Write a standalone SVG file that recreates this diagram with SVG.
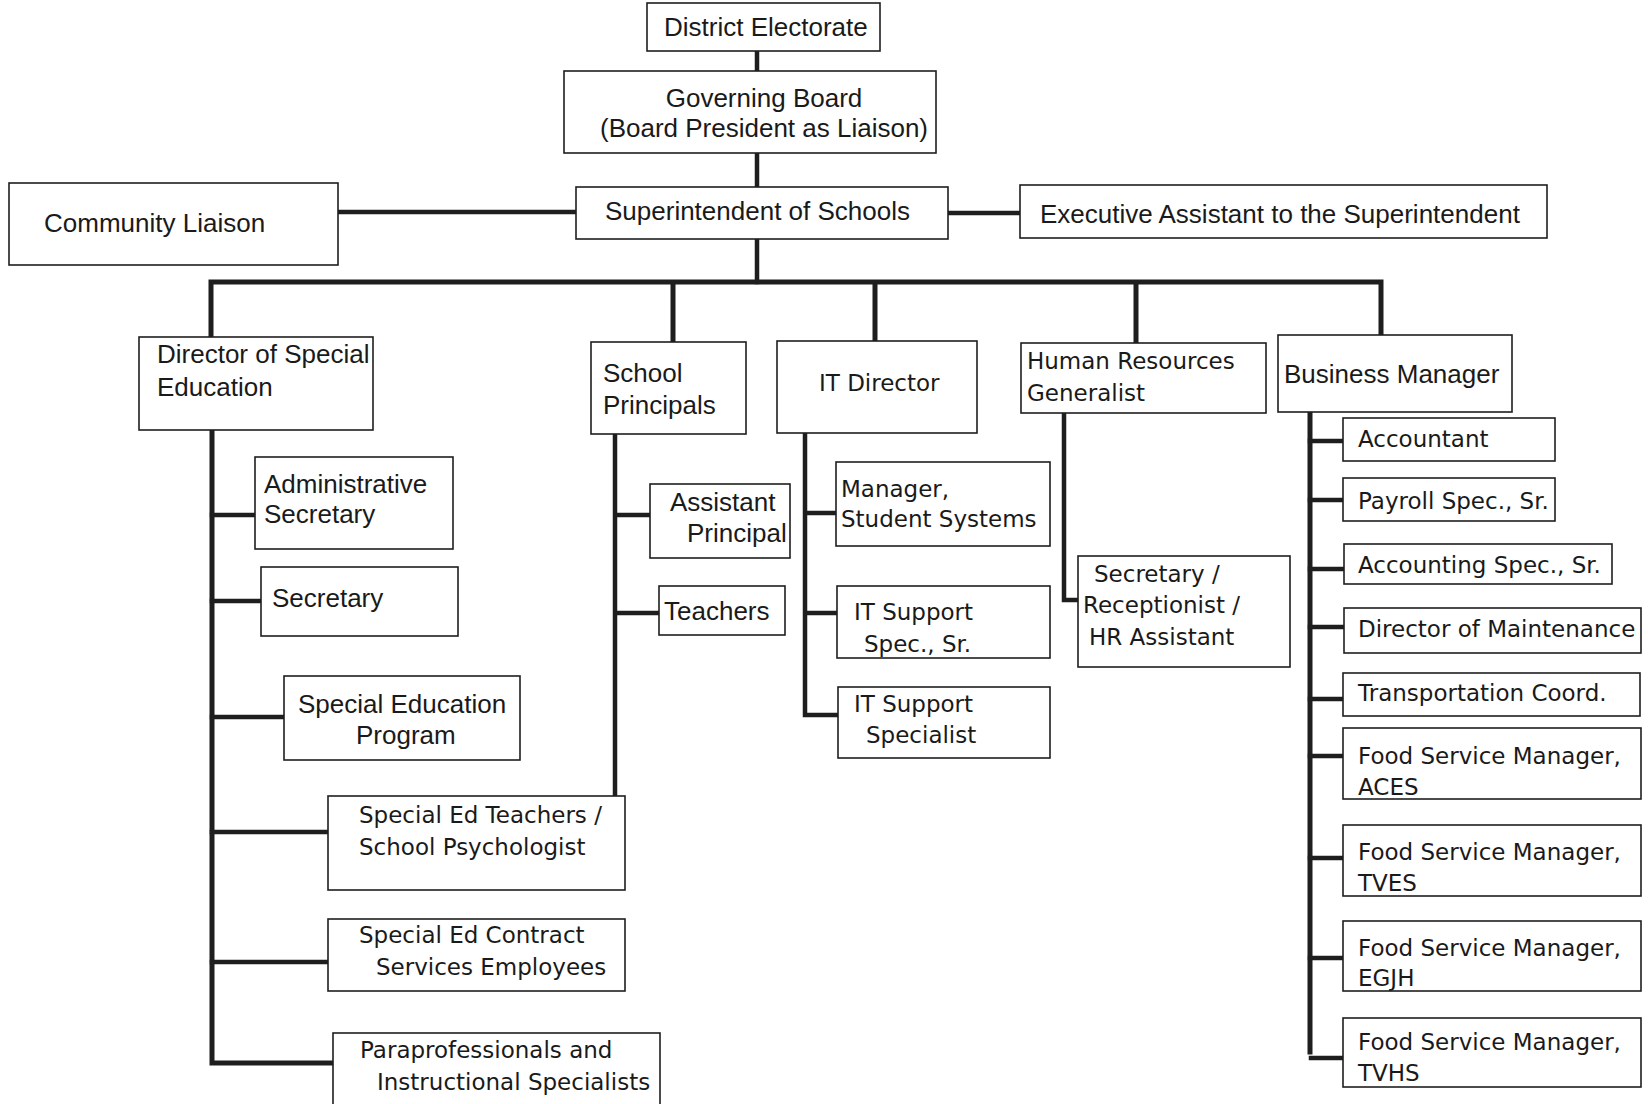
<svg xmlns="http://www.w3.org/2000/svg" width="1648" height="1104" viewBox="0 0 1648 1104">
<style>
.box{fill:#fff;stroke:#1e1e1e;stroke-width:1.6}
.t{font-family:"Liberation Sans",Arial,sans-serif;font-size:26px;fill:#1a1a1a}
.v{font-family:"DejaVu Sans",Verdana,sans-serif;font-size:23px;fill:#1a1a1a}
.c{stroke:#1e1e1e;stroke-width:4.5;fill:none;stroke-linecap:square}
.m{stroke-width:5}
</style>
<rect width="1648" height="1104" fill="#fff"/>
<g id="connectors">
<path class="c" d="M757 51V71M757 153V187M757 239V282M338 212H576M948 213H1020"/>
<path class="c m" d="M211 282H1381M211 282V337M673 282V342M875 282V341M1136 282V342M1381 282V335"/>
<path class="c m" d="M212 430V1063H333"/>
<path class="c" d="M212 515H255M212 601H261M212 717H284M212 832H328M212 962H328"/>
<path class="c" d="M615 434V795M615 515H650M615 613H659"/>
<path class="c" d="M805 433V715H838M805 513H836M805 613H837"/>
<path class="c" d="M1064 413V600H1078"/>
<path class="c m" d="M1310 412V1052"/>
<path class="c" d="M1310 441H1343M1310 500H1343M1310 569H1344M1310 627H1344M1310 699H1343M1310 756H1343M1310 858H1343M1310 958H1343M1311 1058H1343"/>
</g>
<g id="district-electorate"><rect class="box" x="647" y="3" width="233" height="48"/><text class="t" x="664" y="36">District Electorate</text></g>
<g id="governing-board"><rect class="box" x="564" y="71" width="372" height="82"/><text class="t" x="764" y="107" text-anchor="middle">Governing Board</text><text class="t" x="764" y="137" text-anchor="middle">(Board President as Liaison)</text></g>
<g id="superintendent"><rect class="box" x="576" y="187" width="372" height="52"/><text class="t" x="605" y="220">Superintendent of Schools</text></g>
<g id="community-liaison"><rect class="box" x="9" y="183" width="329" height="82"/><text class="t" x="44" y="232">Community Liaison</text></g>
<g id="executive-assistant"><rect class="box" x="1020" y="185" width="527" height="53"/><text class="t" x="1040" y="223">Executive Assistant to the Superintendent</text></g>
<g id="director-special-ed"><rect class="box" x="139" y="337" width="234" height="93"/><text class="t" x="157" y="363">Director of Special</text><text class="t" x="157" y="396">Education</text></g>
<g id="admin-secretary"><rect class="box" x="255" y="457" width="198" height="92"/><text class="t" x="264" y="493">Administrative</text><text class="t" x="264" y="523">Secretary</text></g>
<g id="secretary"><rect class="box" x="261" y="567" width="197" height="69"/><text class="t" x="272" y="607">Secretary</text></g>
<g id="special-ed-program"><rect class="box" x="284" y="676" width="236" height="84"/><text class="t" x="298" y="713">Special Education</text><text class="t" x="356" y="744">Program</text></g>
<g id="special-ed-teachers"><rect class="box" x="328" y="796" width="297" height="94"/><text class="v" x="359" y="823">Special Ed Teachers /</text><text class="v" x="359" y="855">School Psychologist</text></g>
<g id="special-ed-contract"><rect class="box" x="328" y="919" width="297" height="72"/><text class="v" x="359" y="943">Special Ed Contract</text><text class="v" x="376" y="975">Services Employees</text></g>
<g id="paraprofessionals"><rect class="box" x="333" y="1033" width="327" height="80"/><text class="v" x="360" y="1058">Paraprofessionals and</text><text class="v" x="377" y="1090">Instructional Specialists</text></g>
<g id="school-principals"><rect class="box" x="591" y="342" width="155" height="92"/><text class="t" x="603" y="382">School</text><text class="t" x="603" y="414">Principals</text></g>
<g id="assistant-principal"><rect class="box" x="650" y="484" width="140" height="74"/><text class="t" x="670" y="511">Assistant</text><text class="t" x="687" y="542">Principal</text></g>
<g id="teachers"><rect class="box" x="659" y="586" width="126" height="49"/><text class="t" x="664" y="620">Teachers</text></g>
<g id="it-director"><rect class="box" x="777" y="341" width="200" height="92"/><text class="v" x="819" y="391">IT Director</text></g>
<g id="manager-student-systems"><rect class="box" x="836" y="462" width="214" height="84"/><text class="v" x="841" y="497">Manager,</text><text class="v" x="841" y="527">Student Systems</text></g>
<g id="it-support-sr"><rect class="box" x="837" y="586" width="213" height="72"/><text class="v" x="854" y="620">IT Support</text><text class="v" x="864" y="652">Spec., Sr.</text></g>
<g id="it-support-specialist"><rect class="box" x="838" y="687" width="212" height="71"/><text class="v" x="854" y="712">IT Support</text><text class="v" x="866" y="743">Specialist</text></g>
<g id="hr-generalist"><rect class="box" x="1021" y="343" width="245" height="70"/><text class="v" x="1027" y="369">Human Resources</text><text class="v" x="1027" y="401">Generalist</text></g>
<g id="hr-assistant"><rect class="box" x="1078" y="556" width="212" height="111"/><text class="v" x="1094" y="582">Secretary /</text><text class="v" x="1083" y="613">Receptionist /</text><text class="v" x="1089" y="645">HR Assistant</text></g>
<g id="business-manager"><rect class="box" x="1278" y="335" width="234" height="77"/><text class="t" x="1284" y="383">Business Manager</text></g>
<g id="accountant"><rect class="box" x="1343" y="418" width="212" height="43"/><text class="v" x="1358" y="447">Accountant</text></g>
<g id="payroll"><rect class="box" x="1343" y="478" width="212" height="43"/><text class="v" x="1358" y="509">Payroll Spec., Sr.</text></g>
<g id="accounting-spec"><rect class="box" x="1344" y="544" width="268" height="40"/><text class="v" x="1358" y="573">Accounting Spec., Sr.</text></g>
<g id="director-maintenance"><rect class="box" x="1344" y="608" width="297" height="45"/><text class="v" x="1358" y="637">Director of Maintenance</text></g>
<g id="transportation"><rect class="box" x="1343" y="673" width="297" height="43"/><text class="v" x="1358" y="701">Transportation Coord.</text></g>
<g id="fsm-aces"><rect class="box" x="1343" y="728" width="298" height="71"/><text class="v" x="1358" y="764">Food Service Manager,</text><text class="v" x="1358" y="795">ACES</text></g>
<g id="fsm-tves"><rect class="box" x="1343" y="825" width="298" height="71"/><text class="v" x="1358" y="860">Food Service Manager,</text><text class="v" x="1358" y="891">TVES</text></g>
<g id="fsm-egjh"><rect class="box" x="1343" y="921" width="298" height="70"/><text class="v" x="1358" y="956">Food Service Manager,</text><text class="v" x="1358" y="986">EGJH</text></g>
<g id="fsm-tvhs"><rect class="box" x="1343" y="1018" width="298" height="69"/><text class="v" x="1358" y="1050">Food Service Manager,</text><text class="v" x="1358" y="1081">TVHS</text></g>
</svg>
